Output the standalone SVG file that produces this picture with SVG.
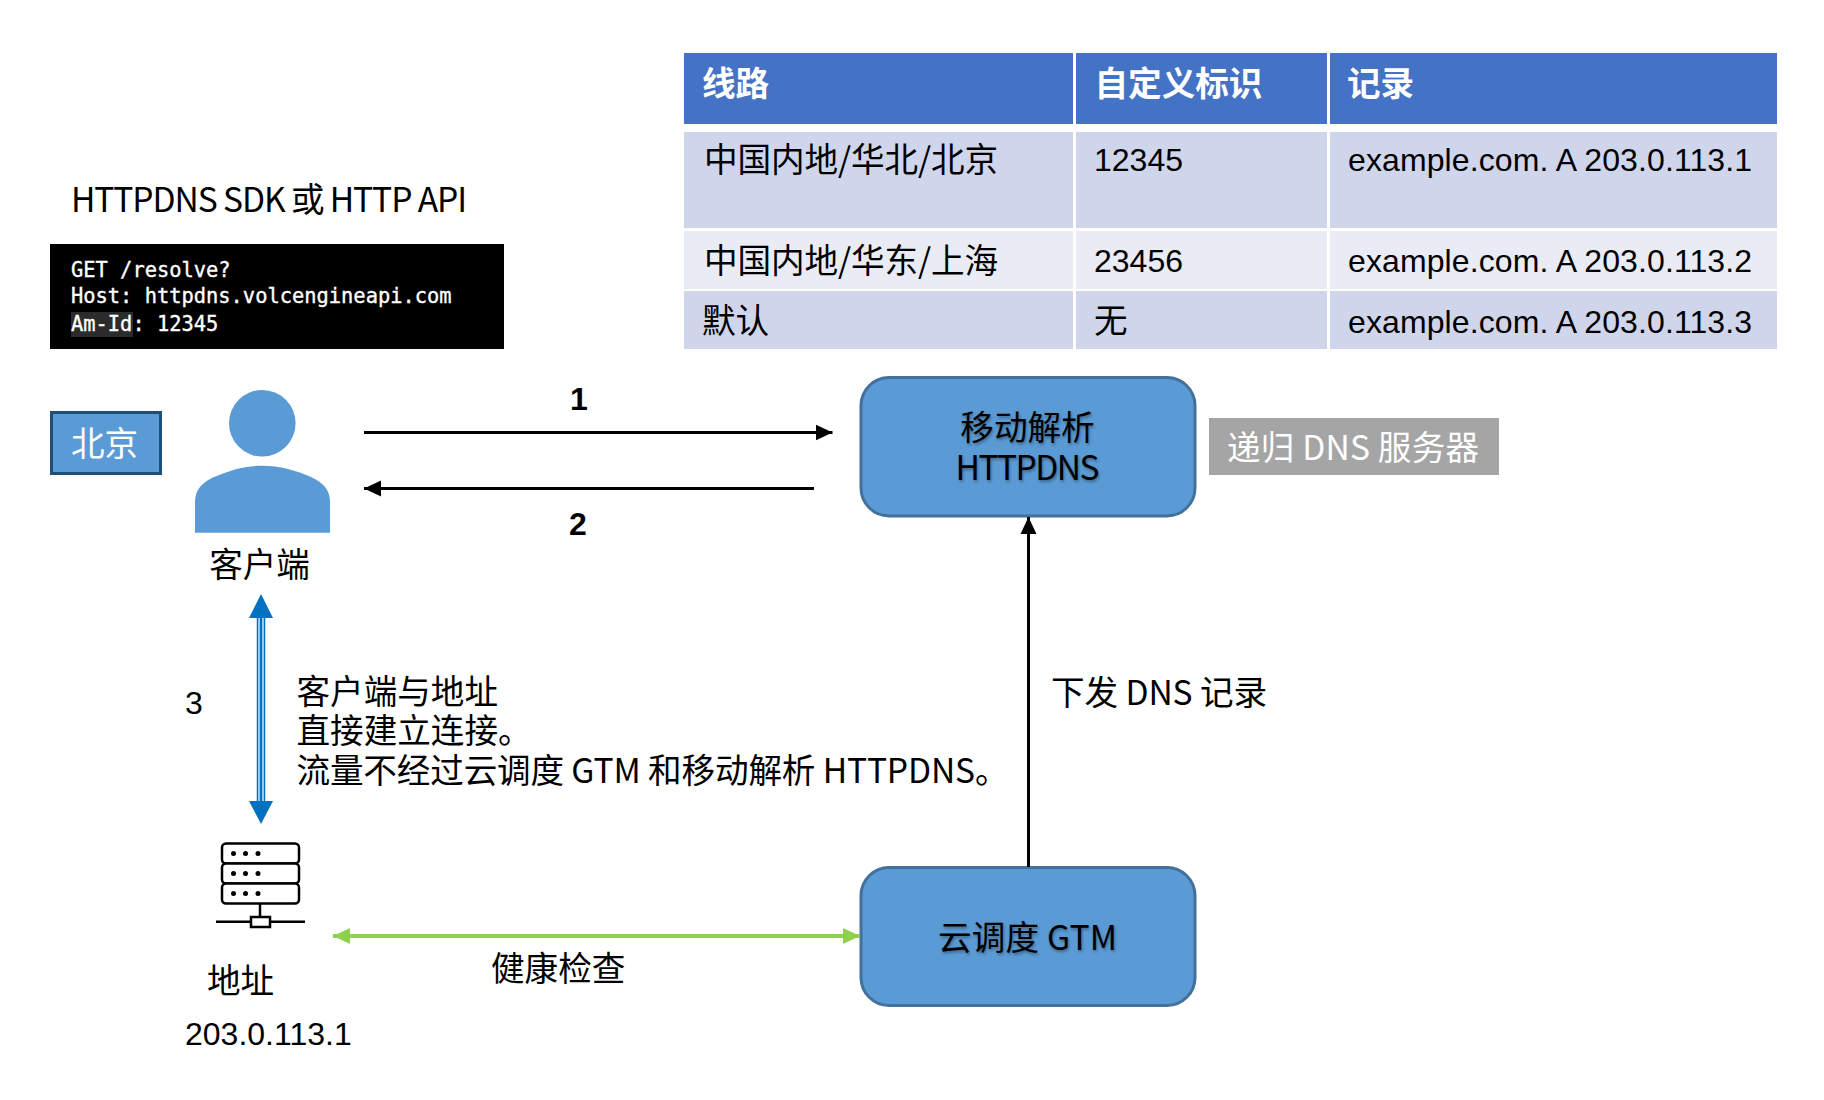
<svg xmlns="http://www.w3.org/2000/svg" width="1824" height="1100" viewBox="0 0 1824 1100">
  <style>
    text { font-family: "Noto Sans CJK SC", "Liberation Sans", sans-serif; font-size: 33.6px; fill: #000; }
    .lat { font-family: "Liberation Sans", "Noto Sans CJK SC", sans-serif; font-size: 32px; }
    .mono { font-family: "DejaVu Sans Mono", monospace; font-size: 20.4px; fill: #fff; stroke: #fff; stroke-width: .35; }
    .head { font-weight: 700; fill: #fff; }
    .white { fill: #fff; }
    .mid { text-anchor: middle; }
    .bold { font-weight: 700; }
    .shadow { text-shadow: 1px 2px 3px rgba(0,0,0,.35); }
    .hdr { fill: #4472c4; }
    .dark { fill: #cfd5ea; }
    .light { fill: #e9ebf5; }
    .box { fill: #5b9bd5; stroke: #41719c; stroke-width: 3; }
    .person { fill: #5b9bd5; }
    .blk { stroke: #000; stroke-width: 3; fill: none; }
    .srv { stroke: #000; stroke-width: 2.5; fill: #fff; }
  </style>
  <defs>
    <marker id="ah" markerUnits="userSpaceOnUse" markerWidth="18" markerHeight="18" refX="17" refY="9" orient="auto-start-reverse">
      <path d="M0 1 L17 9 L0 17 Z" fill="#000"/>
    </marker>
    <marker id="ag" markerUnits="userSpaceOnUse" markerWidth="18" markerHeight="18" refX="17" refY="9" orient="auto-start-reverse">
      <path d="M0 1 L17 9 L0 17 Z" fill="#8fd14f"/>
    </marker>
  </defs>
  <rect width="1824" height="1100" fill="#fff"/>

  <!-- Routing table: header row, then three record rows -->
  <g id="route-table">
    <rect class="hdr" x="684" y="53" width="389" height="71"/>
    <rect class="hdr" x="1076" y="53" width="251" height="71"/>
    <rect class="hdr" x="1330" y="53" width="447" height="71"/>
    <rect class="dark" x="684" y="132" width="389" height="96"/>
    <rect class="dark" x="1076" y="132" width="251" height="96"/>
    <rect class="dark" x="1330" y="132" width="447" height="96"/>
    <rect class="light" x="684" y="231" width="389" height="58"/>
    <rect class="light" x="1076" y="231" width="251" height="58"/>
    <rect class="light" x="1330" y="231" width="447" height="58"/>
    <rect class="dark" x="684" y="291" width="389" height="58"/>
    <rect class="dark" x="1076" y="291" width="251" height="58"/>
    <rect class="dark" x="1330" y="291" width="447" height="58"/>
    <text class="head" x="702" y="96">线路</text>
    <text class="head" x="1094.5" y="96">自定义标识</text>
    <text class="head" x="1347" y="96">记录</text>
    <text x="704" y="172" textLength="294">中国内地/华北/北京</text>
    <text class="lat" x="1094" y="171">12345</text>
    <text class="lat" x="1348" y="171" textLength="404">example.com. A 203.0.113.1</text>
    <text x="704" y="273" textLength="294">中国内地/华东/上海</text>
    <text class="lat" x="1094" y="272">23456</text>
    <text class="lat" x="1348" y="272" textLength="404">example.com. A 203.0.113.2</text>
    <text x="702" y="333">默认</text>
    <text x="1094" y="333">无</text>
    <text class="lat" x="1348" y="333" textLength="404">example.com. A 203.0.113.3</text>
  </g>

  <g id="sdk-title"><text x="71" y="212" textLength="396">HTTPDNS SDK 或 HTTP API</text></g>

  <g id="request-sample">
    <rect x="50" y="244" width="454" height="105" fill="#000"/>
    <rect x="71" y="312" width="62" height="25" fill="#2b2b2b"/>
    <text class="mono" x="71" y="277">GET /resolve?</text>
    <text class="mono" x="71" y="303">Host: httpdns.volcengineapi.com</text>
    <text class="mono" x="71" y="331">Am-Id: 12345</text>
  </g>

  <g id="beijing-tag">
    <rect x="51.5" y="412.5" width="109" height="61" fill="#5b9bd5" stroke="#1f4e79" stroke-width="3"/>
    <text class="white mid" x="104.5" y="456">北京</text>
  </g>

  <g id="client">
    <circle class="person" cx="262.3" cy="423.3" r="33.3"/>
    <path class="person" d="M195 532.7 V502 C195 489 203 482 214 477 C230 470 246 465.7 262.5 465.7 C279 465.7 295 470 311 477 C322 482 330 489 330 502 V532.7 Z"/>
    <text class="mid" x="259.5" y="577">客户端</text>
  </g>

  <g id="httpdns">
    <rect class="box" x="861" y="377.5" width="334" height="138.5" rx="28"/>
    <text class="mid shadow" x="1027.5" y="440">移动解析</text>
    <text class="mid shadow" x="1027.5" y="480" textLength="144">HTTPDNS</text>
  </g>

  <g id="recursive-dns">
    <rect x="1209" y="418" width="290" height="57" fill="#a5a5a5"/>
    <text class="white" x="1227" y="460" textLength="252">递归 DNS 服务器</text>
  </g>

  <g id="gtm">
    <rect class="box" x="861" y="867.5" width="334" height="138" rx="28"/>
    <text class="shadow" x="938" y="950" textLength="179">云调度 GTM</text>
  </g>

  <g id="endpoint">
    <g class="srv">
      <rect x="222" y="843.5" width="77" height="20" rx="4"/>
      <rect x="222" y="863.5" width="77" height="20" rx="4"/>
      <rect x="222" y="883.5" width="77" height="20" rx="4"/>
      <path d="M260 903.5 V917 M216 921.7 H251 M270 921.7 H305"/>
      <rect x="251" y="917" width="19" height="10"/>
    </g>
    <g fill="#000">
      <circle cx="233.5" cy="853.5" r="2.5"/><circle cx="245.5" cy="853.5" r="2.5"/><circle cx="258" cy="853.5" r="2.5"/>
      <circle cx="233.5" cy="873.5" r="2.5"/><circle cx="245.5" cy="873.5" r="2.5"/><circle cx="258" cy="873.5" r="2.5"/>
      <circle cx="233.5" cy="893.5" r="2.5"/><circle cx="245.5" cy="893.5" r="2.5"/><circle cx="258" cy="893.5" r="2.5"/>
    </g>
    <text x="207" y="993">地址</text>
    <text class="lat" x="185" y="1045">203.0.113.1</text>
  </g>

  <g id="connectors">
    <path class="blk" d="M364 432.5 H832.5" marker-end="url(#ah)"/>
    <path class="blk" d="M814 488.5 H364" marker-end="url(#ah)"/>
    <path class="blk" d="M1028.5 867 V517" marker-end="url(#ah)"/>
    <path d="M333 936 H860" stroke="#8fd14f" stroke-width="4" fill="none" marker-start="url(#ag)" marker-end="url(#ag)"/>
    <path d="M261 615 V803" stroke="#0070c0" stroke-width="8.5" fill="none"/>
    <path d="M261 615 V803" stroke="#cfe4f5" stroke-width="5.5" fill="none"/>
    <path d="M261 615 V803" stroke="#0070c0" stroke-width="2.5" fill="none"/>
    <path d="M261 594 L273 618 H249 Z M261 824 L273 801 H249 Z" fill="#0070c0"/>
  </g>

  <g id="connector-labels">
    <text class="lat mid bold" x="579" y="410">1</text>
    <text class="lat mid bold" x="578" y="535">2</text>
    <text class="lat" x="185" y="714">3</text>
    <text x="296.5" y="704">客户端与地址</text>
    <text x="296.5" y="743">直接建立连接。</text>
    <text x="296.5" y="783" textLength="712">流量不经过云调度 GTM 和移动解析 HTTPDNS。</text>
    <text x="1051" y="705" textLength="216">下发 DNS 记录</text>
    <text x="491" y="981">健康检查</text>
  </g>
</svg>
